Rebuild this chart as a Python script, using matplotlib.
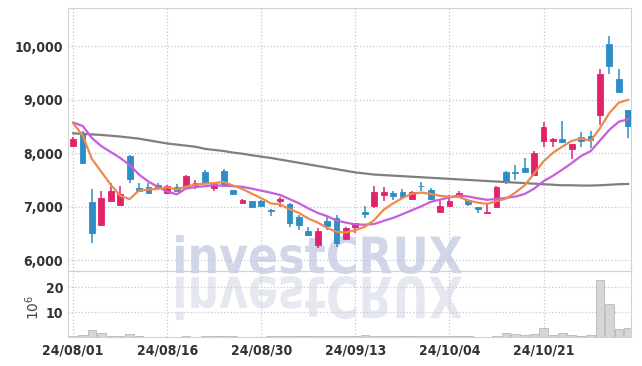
import matplotlib
matplotlib.use('Agg')
import matplotlib.pyplot as plt
from matplotlib.textpath import TextPath
from matplotlib.patches import PathPatch
from matplotlib.font_manager import FontProperties
from matplotlib.transforms import Affine2D, IdentityTransform
from matplotlib.ticker import FuncFormatter

# daily OHLC (KRW), 60 trading days from 24/08/01
opens = [8140, 8360, 7090, 6650, 7100, 7030, 7950, 7340, 7370, 7400,
         7250, 7370, 7380, 7410, 7640, 7340, 7660, 7320, 7070, 7100,
         7110, 6940, 7110, 7050, 6810, 6550, 6290, 6740, 6790, 6400,
         6620, 6900, 7020, 7210, 7250, 7280, 7150, 7390, 7320, 6900,
         7020, 7180, 7130, 6990, 6880, 6990, 7650, 7650, 7730, 7590,
         8220, 8230, 8270, 8070, 8300, 8320, 8720, 10030, 9390, 8800]
highs = [8310, 8420, 7330, 7300, 7440, 7390, 7960, 7440, 7450, 7440,
         7400, 7430, 7600, 7490, 7680, 7450, 7700, 7320, 7150, 7110,
         7120, 6950, 7180, 7060, 6850, 6620, 6600, 6800, 6840, 6630,
         6700, 7020, 7390, 7360, 7290, 7330, 7290, 7460, 7340, 7140,
         7210, 7290, 7140, 7000, 7070, 7390, 7660, 7770, 7900, 8040,
         8580, 8290, 8600, 8180, 8390, 8420, 9580, 10190, 9570, 8810]
lows = [8110, 7800, 6320, 6640, 7100, 7020, 7450, 7300, 7240, 7340,
        7230, 7290, 7340, 7330, 7430, 7300, 7400, 7220, 7050, 6970,
        7010, 6830, 7000, 6620, 6570, 6450, 6230, 6570, 6250, 6390,
        6510, 6780, 6980, 7110, 7120, 7190, 7120, 7300, 7120, 6900,
        7010, 7180, 7020, 6890, 6870, 6980, 7420, 7500, 7630, 7580,
        8110, 8110, 8190, 7890, 8110, 8090, 8530, 9480, 9140, 8280]
closes = [8270, 7820, 6500, 7170, 7290, 7240, 7510, 7300, 7250, 7350,
          7390, 7300, 7580, 7450, 7440, 7440, 7400, 7240, 7130, 7000,
          7020, 6920, 7140, 6690, 6660, 6480, 6550, 6640, 6320, 6600,
          6700, 6870, 7270, 7280, 7200, 7190, 7280, 7380, 7150, 7020,
          7110, 7250, 7050, 6950, 6900, 7370, 7470, 7620, 7640, 8010,
          8490, 8270, 8200, 8170, 8230, 8250, 9470, 9620, 9140, 8500]
# volume in millions of shares
volume = [0.5, 0.9, 2.8, 1.7, 0.5, 0.5, 1.3, 0.5, 0.2, 0.2,
          0.2, 0.2, 0.3, 0.2, 0.5, 0.3, 0.6, 0.3, 0.2, 0.2,
          0.1, 0.3, 0.6, 0.6, 0.3, 0.3, 0.3, 0.3, 0.6, 0.4,
          0.6, 0.9, 0.6, 0.3, 0.3, 0.3, 0.3, 0.5, 0.3, 0.3,
          0.3, 0.3, 0.3, 0.2, 0.1, 0.4, 1.7, 1.3, 0.9, 1.3,
          3.5, 1.0, 1.7, 0.9, 0.5, 0.9, 22.9, 13.4, 3.2, 3.5]
# moving average lines
ma_short = [8560, 8330, 7890, 7650, 7410, 7204, 7142, 7303, 7320, 7333,
            7363, 7320, 7374, 7414, 7431, 7441, 7462, 7395, 7331, 7243,
            7159, 7062, 7042, 6954, 6884, 6778, 6704, 6603, 6530, 6519,
            6561, 6624, 6750, 6942, 7061, 7160, 7243, 7264, 7239, 7203,
            7187, 7181, 7115, 7076, 7053, 7104, 7149, 7263, 7400, 7621,
            7846, 8007, 8122, 8229, 8274, 8227, 8466, 8749, 8943, 8995]
ma_mid = [8570, 8510, 8280, 8130, 8020, 7910, 7780, 7600, 7470, 7371,
          7284, 7231, 7339, 7367, 7382, 7402, 7391, 7385, 7372, 7337,
          7300, 7262, 7219, 7142, 7064, 6968, 6883, 6823, 6742, 6702,
          6669, 6664, 6677, 6736, 6790, 6861, 6934, 7007, 7091, 7132,
          7174, 7212, 7190, 7157, 7128, 7146, 7165, 7189, 7238, 7337,
          7475, 7578, 7693, 7815, 7948, 8036, 8236, 8436, 8586, 8635]
ma_long = [8370, 8360, 8350, 8340, 8325, 8310, 8290, 8270, 8240, 8210,
           8180, 8160, 8140, 8120, 8080, 8060, 8040, 8010, 7990, 7960,
           7935, 7910, 7880, 7850, 7820, 7790, 7760, 7730, 7700, 7670,
           7640, 7620, 7600, 7590, 7580, 7570, 7560, 7550, 7540, 7530,
           7520, 7510, 7500, 7490, 7480, 7470, 7460, 7450, 7440, 7430,
           7420, 7410, 7400, 7400, 7395, 7395, 7400, 7410, 7420, 7425]
tick_pos = [0, 10, 20, 30, 40, 50]
tick_labels = ['24/08/01', '24/08/16', '24/08/30', '24/09/13', '24/10/04', '24/10/21']
price_ticks = [6000, 7000, 8000, 9000, 10000]

UP = '#e2236b'
DOWN = '#2d8dc5'
GRID = '#c6c6dc'
tick_font = FontProperties(family='DejaVu Sans', stretch='condensed', weight='bold', size=10)

fig = plt.figure(figsize=(6.42, 3.66), dpi=100)
ax = fig.add_axes([0.1059, 0.2596, 0.877, 0.7186])
axv = fig.add_axes([0.1059, 0.0792, 0.877, 0.1804], sharex=ax)
for a in (ax, axv):
    a.set_facecolor('none')
    for s in a.spines.values():
        s.set_color('#d2d2d2')
        s.set_linewidth(0.8)
    a.grid(True, linestyle=':', color=GRID, linewidth=0.9)
    a.set_axisbelow(True)
    a.tick_params(length=0, colors='#333333')

# watermark with reflection, drawn behind everything
tp = TextPath((0, 0), 'investCRUX', size=50, prop=FontProperties(family='DejaVu Sans', weight='bold'))
ext = tp.get_extents()
H = 366
x0, x1 = 176, 462
sx = (x1 - x0) / ext.width
sy = (274 - 235) / ext.height
wm = Affine2D().translate(-ext.x0, -ext.y0).scale(sx, sy).translate(x0, H - 274)
fig.add_artist(PathPatch(wm.transform_path(tp), facecolor='#c9d0e6', edgecolor='none',
                         alpha=0.85, transform=IdentityTransform(), zorder=-1))
ry = (320 - 276) / ext.height
rf = Affine2D().translate(-ext.x0, -ext.y0).scale(sx, -ry).translate(x0, H - 276)
fig.add_artist(PathPatch(rf.transform_path(tp), facecolor='#e3e6ef', edgecolor='none',
                         alpha=0.9, transform=IdentityTransform(), zorder=-1))

x = list(range(len(closes)))
cols = [UP if c >= o else DOWN for o, c in zip(opens, closes)]
ax.vlines(x, lows, highs, colors=cols, linewidth=1.1, zorder=2)
bodies = [max(abs(c - o), 12) for o, c in zip(opens, closes)]
ax.bar(x, bodies, bottom=[min(o, c) for o, c in zip(opens, closes)], width=0.62,
       color=cols, edgecolor=cols, linewidth=0.6, zorder=3)

ax.plot(x, ma_long, color='#7f7f7f', linewidth=1.6, zorder=4)
ax.plot(x, ma_mid, color='#c65ee0', linewidth=1.6, zorder=5)
ax.plot(x, ma_short, color='#ef8a4e', linewidth=1.6, zorder=6)

ax.set_ylim(5800, 10710)
ax.set_xlim(-0.55, 59.3)
ax.set_yticks(price_ticks)
ax.yaxis.set_major_formatter(FuncFormatter(lambda v, p: f'{int(v):,}'))
ax.set_xticks(tick_pos)
ax.tick_params(axis='x', labelbottom=False)
for lab in ax.get_yticklabels():
    lab.set_fontproperties(tick_font)

axv.bar(x, volume, width=0.9, color='#d6d6d6', edgecolor='#b8b8b8', linewidth=0.6, zorder=2)
axv.set_ylim(0, 26.5)
axv.set_yticks([10, 20])
axv.set_xticks(tick_pos)
axv.set_xticklabels(tick_labels)
for lab in axv.get_yticklabels() + axv.get_xticklabels():
    lab.set_fontproperties(tick_font)
axv.tick_params(axis='x', pad=5)
axv.text(-0.062, 0.45, r'$10^6$', rotation=90, transform=axv.transAxes,
         ha='center', va='center', fontsize=10, color='#444444')

fig.savefig('out.png', dpi=100)
